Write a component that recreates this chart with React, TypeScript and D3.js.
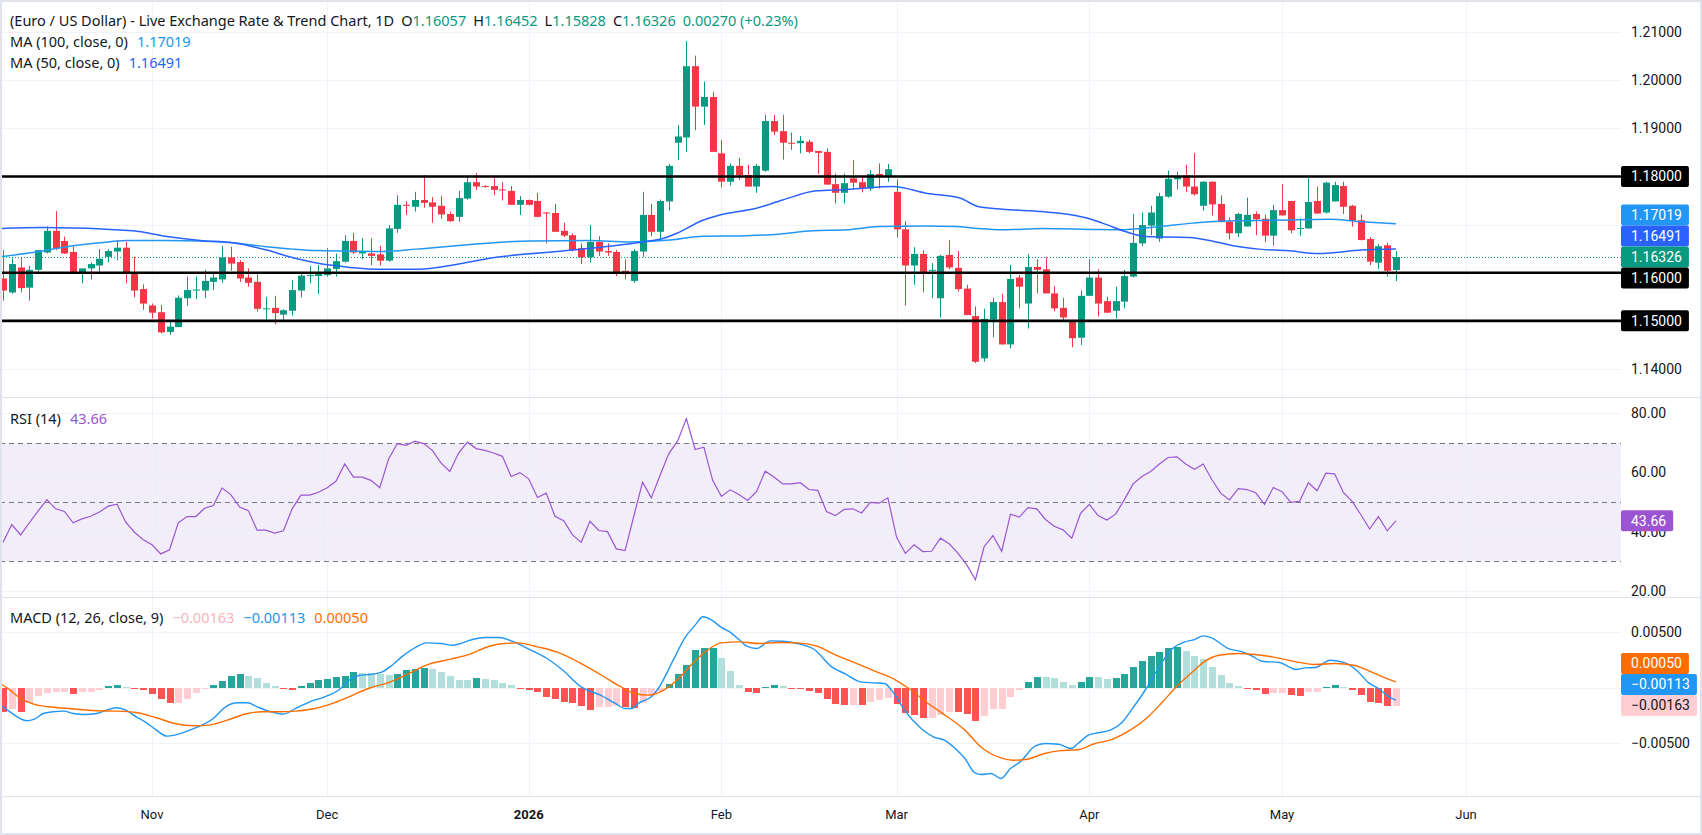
import React, { useEffect, useRef } from 'react';
import * as d3 from 'd3';

// EUR/USD daily chart with MA(100), MA(50), RSI(14) and MACD(12, 26, 9)

const WIDTH = 1702;
const HEIGHT = 835;
const PLOT_RIGHT = 1621;
const FONT = "Roboto, 'Liberation Sans', Arial, sans-serif";
const LEGEND_FONT = "'Noto Sans', 'Open Sans', Roboto, sans-serif";

const UP = '#089981';
const DOWN = '#F23645';
const MA100_COLOR = '#2196F3';
const MA50_COLOR = '#2962FF';
const RSI_COLOR = '#9C55D2';
const MACD_COLOR = '#2196F3';
const SIGNAL_COLOR = '#FF6D00';
const TEXT = '#131722';
const GRID = '#F0F3FA';
const BORDER = '#E0E3EB';

// bar 0 = first trading day of November 2025, first visible bar is -17
const FIRST_BAR = -17;

const monthLabels = ['Nov', 'Dec', '2026', 'Feb', 'Mar', 'Apr', 'May', 'Jun'];
const monthBars = [0, 20, 43, 65, 85, 107, 129, 150];

const priceTicks = [1.21, 1.2, 1.19, 1.18, 1.17, 1.16, 1.15, 1.14];
const levelLines = [1.18, 1.16, 1.15];
const rsiTicks = [80, 60, 40, 20];
const rsiBands = [70, 50, 30];
const macdTicks = [5, -5]; // x 0.001

const opens = [
  1.1588, 1.1559, 1.1611, 1.1569, 1.1606, 1.1642, 1.1687, 1.1666, 1.1643, 1.1599,
  1.1609, 1.1615, 1.1633, 1.1644, 1.1652, 1.1601, 1.1566, 1.1532, 1.1518, 1.1477,
  1.1487, 1.1547, 1.1564, 1.1563, 1.1581, 1.1586, 1.1632, 1.1622, 1.1590, 1.1581,
  1.1525, 1.1527, 1.1513, 1.1521, 1.1563, 1.1594, 1.1593, 1.1595, 1.1608, 1.1623,
  1.1666, 1.1640, 1.1640, 1.1638, 1.1625, 1.1691, 1.1741, 1.1737, 1.1751, 1.1746,
  1.1739, 1.1722, 1.1716, 1.1754, 1.1788, 1.1780, 1.1780, 1.1773, 1.1770, 1.1741,
  1.1751, 1.1749, 1.1725, 1.1724, 1.1687, 1.1678, 1.1651, 1.1632, 1.1664, 1.1645,
  1.1643, 1.1604, 1.1583, 1.1644, 1.1720, 1.1685, 1.1748, 1.1870, 1.1881, 1.2029,
  1.1945, 1.1965, 1.1848, 1.1789, 1.1822, 1.1803, 1.1779, 1.1812, 1.1915, 1.1894,
  1.1870, 1.1869, 1.1872, 1.1853, 1.1851, 1.1784, 1.1766, 1.1796, 1.1788, 1.1775,
  1.1805, 1.1800, 1.1768, 1.1690, 1.1615, 1.1639, 1.1605, 1.1547, 1.1637, 1.1610,
  1.1567, 1.1510, 1.1422, 1.1503, 1.1539, 1.1451, 1.1590, 1.1536, 1.1612, 1.1607,
  1.1557, 1.1527, 1.1502, 1.1465, 1.1552, 1.1590, 1.1541, 1.1521, 1.1540, 1.1592,
  1.1661, 1.1698, 1.1671, 1.1758, 1.1794, 1.1802, 1.1779, 1.1739, 1.1789, 1.1743,
  1.1706, 1.1682, 1.1696, 1.1722, 1.1712, 1.1677, 1.1730, 1.1749, 1.1692, 1.1692,
  1.1749, 1.1725, 1.1748, 1.1780, 1.1739, 1.1709, 1.1670, 1.1621, 1.1657, 1.16057,
];

const highs = [
  1.1647, 1.1630, 1.1632, 1.1614, 1.1647, 1.1696, 1.1728, 1.1675, 1.1654, 1.1609,
  1.1621, 1.1649, 1.1649, 1.1668, 1.1664, 1.1633, 1.1576, 1.1536, 1.1533, 1.1498,
  1.1553, 1.1592, 1.1592, 1.1606, 1.1599, 1.1656, 1.1654, 1.1626, 1.1609, 1.1597,
  1.1550, 1.1552, 1.1524, 1.1585, 1.1601, 1.1614, 1.1616, 1.1651, 1.1640, 1.1678,
  1.1683, 1.1672, 1.1672, 1.1656, 1.1699, 1.1761, 1.1748, 1.1768, 1.1803, 1.1757,
  1.1760, 1.1727, 1.1770, 1.1800, 1.1807, 1.1782, 1.1796, 1.1788, 1.1780, 1.1759,
  1.1752, 1.1766, 1.1726, 1.1743, 1.1704, 1.1682, 1.1661, 1.1699, 1.1676, 1.1661,
  1.1647, 1.1628, 1.1649, 1.1768, 1.1743, 1.1752, 1.1826, 1.1907, 1.2081, 1.2051,
  1.1997, 1.1976, 1.1876, 1.1827, 1.1839, 1.1824, 1.1826, 1.1928, 1.1928, 1.1928,
  1.1891, 1.1884, 1.1876, 1.1853, 1.1858, 1.1806, 1.1806, 1.1834, 1.1800, 1.1813,
  1.1827, 1.1826, 1.1794, 1.1707, 1.1653, 1.1647, 1.1620, 1.1637, 1.1668, 1.1645,
  1.1575, 1.1530, 1.1525, 1.1548, 1.1556, 1.1616, 1.1595, 1.1639, 1.1628, 1.1632,
  1.1572, 1.1548, 1.1502, 1.1563, 1.1628, 1.1607, 1.1550, 1.1571, 1.1606, 1.1722,
  1.1725, 1.1739, 1.1766, 1.1812, 1.1810, 1.1824, 1.1849, 1.1790, 1.1790, 1.1761,
  1.1715, 1.1725, 1.1756, 1.1727, 1.1721, 1.1741, 1.1784, 1.1749, 1.1713, 1.1796,
  1.1779, 1.1789, 1.1789, 1.1789, 1.1741, 1.1721, 1.1674, 1.1660, 1.1662, 1.16452,
];

const lows = [
  1.1542, 1.1556, 1.1559, 1.1542, 1.1602, 1.1640, 1.1647, 1.1639, 1.1599, 1.1578,
  1.1586, 1.1600, 1.1621, 1.1626, 1.1578, 1.1549, 1.1523, 1.1505, 1.1474, 1.1471,
  1.1487, 1.1531, 1.1545, 1.1547, 1.1564, 1.1579, 1.1604, 1.1581, 1.1571, 1.1519,
  1.1502, 1.1493, 1.1502, 1.1511, 1.1549, 1.1578, 1.1556, 1.1592, 1.1592, 1.1621,
  1.1639, 1.1628, 1.1616, 1.1615, 1.1623, 1.1683, 1.1720, 1.1727, 1.1735, 1.1704,
  1.1712, 1.1705, 1.1706, 1.1752, 1.1772, 1.1777, 1.1761, 1.1750, 1.1741, 1.1720,
  1.1740, 1.1715, 1.1661, 1.1685, 1.1674, 1.1644, 1.1618, 1.1621, 1.1635, 1.1635,
  1.1593, 1.1586, 1.1579, 1.1633, 1.1676, 1.1670, 1.1729, 1.1834, 1.1851, 1.1896,
  1.1907, 1.1851, 1.1777, 1.1781, 1.1793, 1.1779, 1.1766, 1.1810, 1.1886, 1.1835,
  1.1855, 1.1848, 1.1848, 1.1805, 1.1783, 1.1744, 1.1744, 1.1775, 1.1767, 1.1770,
  1.1775, 1.1789, 1.1673, 1.1532, 1.1575, 1.1559, 1.1547, 1.1507, 1.1607, 1.1561,
  1.1512, 1.1412, 1.1415, 1.1466, 1.1451, 1.1443, 1.1526, 1.1484, 1.1557, 1.1557,
  1.1520, 1.1502, 1.1445, 1.1450, 1.1552, 1.1509, 1.1516, 1.1505, 1.1526, 1.1590,
  1.1655, 1.1678, 1.1664, 1.1756, 1.1773, 1.1768, 1.1760, 1.1729, 1.1719, 1.1705,
  1.1669, 1.1674, 1.1696, 1.1678, 1.1663, 1.1656, 1.1719, 1.1682, 1.1677, 1.1692,
  1.1722, 1.1723, 1.1748, 1.1722, 1.1696, 1.1667, 1.1616, 1.1608, 1.1592, 1.15828,
];

const closes = [
  1.1563, 1.1618, 1.1568, 1.1606, 1.1647, 1.1687, 1.1651, 1.1640, 1.1599, 1.1609,
  1.1618, 1.1629, 1.1645, 1.1652, 1.1599, 1.1563, 1.1536, 1.1517, 1.1476, 1.1488,
  1.1548, 1.1564, 1.1565, 1.1583, 1.1590, 1.1632, 1.1619, 1.1588, 1.1579, 1.1525,
  1.1526, 1.1516, 1.1522, 1.1564, 1.1594, 1.1595, 1.1600, 1.1609, 1.1624, 1.1666,
  1.1642, 1.1644, 1.1635, 1.1625, 1.1692, 1.1741, 1.1740, 1.1751, 1.1745, 1.1737,
  1.1721, 1.1707, 1.1755, 1.1788, 1.1779, 1.1779, 1.1772, 1.1772, 1.1741, 1.1751,
  1.1741, 1.1716, 1.1724, 1.1685, 1.1677, 1.1647, 1.1632, 1.1664, 1.1644, 1.1642,
  1.1599, 1.1597, 1.1645, 1.1720, 1.1685, 1.1749, 1.1822, 1.1883, 1.2029, 1.1945,
  1.1965, 1.1851, 1.1789, 1.1822, 1.1803, 1.1779, 1.1822, 1.1915, 1.1893, 1.1870,
  1.1869, 1.1874, 1.1851, 1.1849, 1.1783, 1.1766, 1.1786, 1.1787, 1.1775, 1.1805,
  1.1800, 1.1815, 1.1690, 1.1615, 1.1639, 1.1602, 1.1606, 1.1635, 1.1611, 1.1566,
  1.1512, 1.1415, 1.1504, 1.1539, 1.1451, 1.1587, 1.1571, 1.1612, 1.1606, 1.1557,
  1.1526, 1.1507, 1.1464, 1.1552, 1.1590, 1.1536, 1.1517, 1.1541, 1.1593, 1.1662,
  1.1699, 1.1725, 1.1759, 1.1795, 1.1800, 1.1779, 1.1763, 1.1789, 1.1742, 1.1705,
  1.1682, 1.1722, 1.1720, 1.1711, 1.1677, 1.1730, 1.1719, 1.1688, 1.1693, 1.1747,
  1.1723, 1.1787, 1.1782, 1.1737, 1.1708, 1.1668, 1.1623, 1.1655, 1.1604, 1.16326,
];

// moving averages: [bar, value]
const ma100Pts = [
  [-17.3, 1.1633], [-13.6, 1.1642], [-9.7, 1.1654], [-5.9, 1.1662], [-2.9, 1.1667], [1.7, 1.1667],
  [5.5, 1.1666], [9.2, 1.1662], [13.1, 1.1654], [16.1, 1.1649], [18.8, 1.1646], [22.6, 1.1645],
  [26.4, 1.1644], [30.2, 1.1649], [37.4, 1.166], [43.1, 1.1666], [50, 1.1667], [54.5, 1.1664],
  [59.1, 1.1668], [62.9, 1.1676], [67.9, 1.1677], [71.6, 1.168], [75.4, 1.1687], [79.3, 1.1689],
  [83, 1.1696], [88.4, 1.1697], [91.8, 1.1696], [94.1, 1.1692], [97.1, 1.1689], [101.6, 1.1692],
  [107.4, 1.169], [110.4, 1.1689], [115, 1.1696], [118.8, 1.1703], [121.8, 1.1707], [124.5, 1.1708],
  [128.3, 1.1709], [134.4, 1.1711], [138.1, 1.1706], [142, 1.17019],
];

const ma50Pts = [
  [-17.3, 1.1692], [-12.4, 1.1694], [-2.2, 1.1687], [1.7, 1.1675], [5.5, 1.1667], [9.2, 1.1662],
  [13.1, 1.1647], [15.7, 1.1633], [18.8, 1.162], [22.6, 1.1611], [26.4, 1.1607], [30.2, 1.1607],
  [33, 1.1612], [39.3, 1.1632], [48, 1.1647], [56, 1.1664], [58.3, 1.1671], [59.9, 1.1682],
  [62.9, 1.1709], [64.8, 1.172], [69, 1.1734], [72, 1.1751], [75.8, 1.177], [79.3, 1.1773],
  [80.8, 1.1775], [84.6, 1.1779], [88.4, 1.1765], [92.2, 1.1755], [94.4, 1.1737], [97.1, 1.1732],
  [101.6, 1.1727], [103.9, 1.1723], [106.6, 1.1714], [108.5, 1.1703], [111.2, 1.1685], [113.5, 1.1675],
  [118.4, 1.1673], [121.5, 1.1664], [123.8, 1.1655], [126.4, 1.1649], [129.5, 1.1646], [133.2, 1.164],
  [138.1, 1.1647], [142, 1.16491],
];

// RSI(14), one value per bar
const rsi = [
  36.4, 42.4, 38.9, 43.0, 47.0, 50.8, 47.7, 46.8, 43.0, 44.3, 45.2, 46.6, 48.6, 49.3, 43.2, 39.8, 37.3,
  35.6, 32.5, 33.9, 43.0, 45.1, 45.1, 47.9, 48.8, 54.7, 52.5,
  48.3, 47.1, 40.5, 40.5, 39.5, 40.3, 47.7, 52.3, 52.3, 53.3,
  54.8, 57.0, 62.8, 58.4, 58.4, 57.3, 54.8, 64.4, 69.7, 69.1,
  70.5, 69.7, 67.4, 63.1, 60.3, 66.5, 70.2, 68.0, 67.4, 66.5,
  65.4, 58.6, 59.9, 57.8, 51.5, 53.0, 45.2, 43.7, 38.9, 36.4,
  43.5, 40.4, 40.0, 34.2, 33.6, 45.2, 56.7, 51.4, 59.0, 66.3,
  70.5, 78.1, 67.7, 68.5, 57.3, 51.9, 54.1, 52.5, 50.5, 53.5,
  60.4, 58.4, 56.1, 56.1, 56.5, 54.2, 53.9, 46.8, 45.4, 47.5,
  47.7, 46.3, 49.9, 49.6, 51.4, 38.1, 32.7, 35.6, 33.3, 33.4,
  37.8, 35.9, 32.8, 28.9, 23.8, 35.0, 38.7, 33.4, 45.9, 44.9,
  48.1, 47.7, 44.1, 41.8, 40.6, 37.8, 46.2, 49.2, 45.4, 43.9,
  45.9, 50.8, 56.1, 58.6, 60.3, 62.8, 65.0, 65.2, 62.8, 61.0,
  62.8, 57.5, 53.0, 50.7, 54.5, 54.2, 53.1, 49.2, 54.9, 53.5,
  49.9, 50.2, 56.5, 53.8, 59.7, 59.5, 53.2, 50.2, 45.7, 40.9,
  45.1, 40.3, 43.66,
];

// MACD histogram, x 0.001, one value per bar
const HIST_BEFORE = -1.9;
const hist = [
  -2.2, -1.9, -2.2, -1.38, -0.8, -0.54, -0.45, -0.4, -0.57, -0.45, -0.4, -0.24, 0.12, 0.24, 0.09, -0.1, -0.24,
  -0.6, -1.0, -1.4, -1.38, -1.0, -0.54, -0.18, 0.24, 0.57, 1.05,
  1.2, 1.0, 0.87, 0.42, 0.15, -0.12, -0.24, 0.12, 0.42, 0.7,
  0.8, 0.96, 1.05, 1.4, 1.35, 1.3, 1.2, 1.14, 1.2, 1.56,
  1.7, 1.8, 1.68, 1.38, 1.08, 0.72, 0.7, 0.87, 0.78, 0.66,
  0.45, 0.27, -0.09, -0.24, -0.4, -0.84, -1.0, -1.3, -1.44, -1.65,
  -2.0, -1.8, -1.74, -1.68, -1.77, -1.83, -1.44, -0.8, -0.3, 0.3,
  1.2, 2.0, 3.36, 3.57, 3.58, 2.67, 1.5, 0.24, -0.39, -0.48,
  0.09, 0.27, 0.18, -0.03, -0.15, -0.36, -0.51, -1.05, -1.5, -1.59,
  -1.56, -1.6, -1.35, -1.14, -0.96, -1.5, -2.31, -2.49, -2.76, -2.73,
  -2.46, -2.22, -2.25, -2.4, -3.06, -2.58, -1.95, -1.92, -0.9, -0.24,
  0.54, 0.99, 0.97, 0.84, 0.54, 0.21, 0.54, 0.99, 0.97, 0.81,
  0.9, 1.26, 1.89, 2.43, 2.88, 3.24, 3.54, 3.63, 3.33, 2.88,
  2.55, 1.89, 1.17, 0.45, 0.18, -0.09, -0.27, -0.63, -0.54, -0.52,
  -0.72, -0.81, -0.45, -0.44, 0.09, 0.27, 0.09, -0.27, -0.72, -1.35,
  -1.41, -1.71, -1.63,
];

// MACD and signal lines, x 0.001: [bar, value]
const macdPts = [
  [-17.3, -1.59], [-16.2, -2.19], [-15.1, -2.79], [-14.3, -3.0], [-13.5, -2.88], [-12.4, -2.34],
  [-11.3, -2.19], [-10.1, -2.13], [-9, -2.34], [-7.7, -2.43], [-6.3, -2.34], [-5.2, -2.04],
  [-4.1, -1.83], [-3, -2.04], [-1.8, -2.64], [-0.8, -3.09], [0.4, -3.78], [1.7, -4.38],
  [2.6, -4.29], [4.8, -3.69], [7, -2.79], [8.4, -1.74], [9.8, -1.38], [10.9, -1.38],
  [12, -1.74], [13.6, -2.19], [15, -2.4], [16.4, -1.89], [18, -1.29], [19.7, -0.84],
  [21.4, -0.18], [22.5, 0.66], [23.6, 1.08], [25.2, 1.2], [26.3, 1.41], [27.4, 2.01],
  [28.5, 2.76], [30.2, 3.66], [31.3, 4.02], [33, 3.96], [34.3, 3.81], [35.2, 3.96],
  [36.3, 4.26], [38, 4.5], [39.6, 4.5], [41.3, 4.11], [42.9, 3.51], [45.1, 2.61],
  [46.8, 1.62], [49, 0.06], [51.2, -0.69], [52.9, -1.44], [54, -1.89], [54.8, -1.89],
  [55.6, -1.38], [57, -0.84], [57.8, -0.09], [59.5, 2.46], [60.9, 4.56], [62, 5.62],
  [62.9, 6.37], [63.9, 6.07], [65, 5.41], [66.1, 4.92], [67.1, 4.26], [67.9, 3.72],
  [69, 3.51], [70.6, 4.2], [72, 4.17], [73.7, 3.96], [75.6, 3.42], [77.6, 1.86],
  [79.2, 1.2], [80.9, 0.51], [82.3, 0.42], [83.6, 0.36], [84.7, -0.54], [85.9, -2.04],
  [87.8, -3.69], [89.2, -4.44], [90.6, -4.8], [91.7, -5.5], [92.8, -6.4], [93.9, -7.66],
  [94.7, -7.84], [95.8, -7.75], [96.9, -8.2], [98, -7.3], [99.1, -6.7], [100.8, -5.29],
  [101.9, -5.05], [103.5, -5.11], [104.9, -5.5], [105.7, -5.05], [106.9, -4.29], [108, -4.08],
  [109.4, -3.84], [110.7, -3.18], [111.8, -2.04], [113.5, -0.09], [115.2, 2.16], [116.5, 3.51],
  [117.9, 4.11], [119, 4.32], [120, 4.65], [120.9, 4.5], [122.9, 3.51], [124.5, 3.21],
  [125.6, 2.82], [126.7, 2.37], [128.7, 2.25], [130.6, 1.62], [131.7, 1.77], [132.8, 1.8],
  [134.5, 2.46], [136.2, 2.22], [137.5, 1.56], [138.9, 0.42], [140, -0.09], [141.2, -0.84],
  [142, -1.13],
];

const signalPts = [
  [-17.3, 0.36], [-16.2, -0.24], [-15.1, -0.93], [-13.5, -1.5], [-11.8, -1.74], [-9.6, -1.89],
  [-6.3, -2.1], [-4.1, -2.13], [-1.8, -2.25], [0.4, -2.7], [2.6, -3.24], [4.8, -3.45],
  [6.4, -3.39], [8.6, -2.94], [10.9, -2.34], [12.5, -2.19], [14.7, -2.19], [16.4, -2.13],
  [18.6, -1.89], [20.8, -1.38], [22.5, -0.84], [24.7, -0.09], [26.9, 0.42], [29.7, 1.41],
  [31.3, 2.01], [34.1, 2.55], [36.3, 3.0], [38.5, 3.72], [40.2, 3.96], [41.8, 4.02],
  [44, 3.66], [46.2, 3.21], [49, 2.16], [51.2, 1.17], [53.4, 0.12], [55.1, -0.54],
  [56.7, -0.69], [58.4, -0.24], [60, 0.72], [61.7, 2.16], [63.4, 3.36], [65, 4.02],
  [67.1, 4.11], [69.3, 3.96], [71.5, 4.05], [73.7, 4.02], [75.9, 3.72], [78.1, 2.91],
  [80.9, 2.01], [82.5, 1.47], [84.2, 0.96], [86.4, -0.09], [88.6, -1.44], [90.8, -2.64],
  [92.8, -3.84], [94.7, -5.41], [96.9, -6.34], [98.3, -6.55], [99.7, -6.49], [101.9, -5.95],
  [103.5, -5.71], [105.8, -5.59], [107.4, -5.11], [109.6, -4.68], [111.8, -3.78], [113.5, -2.79],
  [115.2, -1.44], [117.1, 0.21], [118.8, 1.41], [120.1, 2.31], [121.8, 2.91], [124, 3.06],
  [125.6, 3.0], [127.9, 2.76], [130.6, 2.31], [132.8, 2.07], [135, 2.16], [137.2, 2.01],
  [138.9, 1.5], [140.5, 0.96], [142, 0.5],
];

const TITLE = '(Euro / US Dollar) - Live Exchange Rate & Trend Chart, 1D';
const CHANGE_TEXT = '0.00270 (+0.23%)';

const fmt5 = d3.format('.5f');
const fmt2 = d3.format('.2f');

// stack price labels so they do not overlap, keeping one of them fixed
const stackLabels = (labels, fixedIdx, h) => {
  const out = labels.map((l) => ({ ...l, cy: l.y }));
  for (let k = fixedIdx - 1; k >= 0; k--) out[k].cy = Math.min(out[k].y, out[k + 1].cy - h);
  for (let k = fixedIdx + 1; k < out.length; k++) out[k].cy = Math.max(out[k].y, out[k - 1].cy + h);
  return out;
};

const App = () => {
  const svgRef = useRef(null);

  useEffect(() => {
    if (!svgRef.current) return;
    const svg = d3.select(svgRef.current);
    svg.selectAll('*').remove();

    // Scales
    const x = d3.scaleLinear().domain([monthBars[0], monthBars[monthBars.length - 1]]).range([152, 1466]);
    const yPrice = d3.scaleLinear().domain([1.14, 1.21]).range([369, 32]);
    const yRsi = d3.scaleLinear().domain([20, 80]).range([591, 413]);
    const yMacd = d3.scaleLinear().domain([-5, 5]).range([743, 632]);

    const panes = { main: [0, 397], rsi: [397, 597], macd: [597, 796] };

    svg.append('rect').attr('width', WIDTH).attr('height', HEIGHT).attr('fill', '#fff');

    const defs = svg.append('defs');
    Object.entries(panes).forEach(([name, [y0, y1]]) => {
      defs.append('clipPath').attr('id', `clip-${name}`)
        .append('rect').attr('x', 0).attr('y', y0 + 1).attr('width', PLOT_RIGHT).attr('height', y1 - y0 - 1);
    });

    // RSI background band
    svg.append('rect')
      .attr('x', 0).attr('y', yRsi(70)).attr('width', PLOT_RIGHT).attr('height', yRsi(30) - yRsi(70))
      .attr('fill', 'rgba(126, 87, 194, 0.1)');

    // Grid
    const grid = svg.append('g').attr('stroke', GRID).attr('stroke-width', 1).attr('shape-rendering', 'crispEdges');
    monthBars.forEach((b) => {
      grid.append('line').attr('x1', Math.round(x(b)) + 0.5).attr('x2', Math.round(x(b)) + 0.5)
        .attr('y1', 0).attr('y2', panes.macd[1]);
    });
    priceTicks.forEach((v) => {
      grid.append('line').attr('x1', 0).attr('x2', PLOT_RIGHT).attr('y1', Math.round(yPrice(v)) + 0.5).attr('y2', Math.round(yPrice(v)) + 0.5);
    });
    rsiTicks.forEach((v) => {
      grid.append('line').attr('x1', 0).attr('x2', PLOT_RIGHT).attr('y1', Math.round(yRsi(v)) + 0.5).attr('y2', Math.round(yRsi(v)) + 0.5);
    });
    [...macdTicks, 0].forEach((v) => {
      grid.append('line').attr('x1', 0).attr('x2', PLOT_RIGHT).attr('y1', Math.round(yMacd(v)) + 0.5).attr('y2', Math.round(yMacd(v)) + 0.5);
    });

    // ---------- main pane ----------
    const main = svg.append('g').attr('clip-path', 'url(#clip-main)');
    const bars = d3.range(opens.length).map((k) => ({
      i: k + FIRST_BAR, o: opens[k], h: highs[k], l: lows[k], c: closes[k],
    }));
    const lastBar = bars[bars.length - 1];

    // last close dotted line
    main.append('line')
      .attr('x1', 0).attr('x2', PLOT_RIGHT)
      .attr('y1', Math.round(yPrice(lastBar.c)) + 0.5).attr('y2', Math.round(yPrice(lastBar.c)) + 0.5)
      .attr('stroke', UP).attr('stroke-width', 1).attr('stroke-dasharray', '1,2');

    const candle = main.append('g').selectAll('g').data(bars).join('g');
    candle.append('rect')
      .attr('x', (d) => Math.round(x(d.i)))
      .attr('y', (d) => yPrice(d.h))
      .attr('width', 1)
      .attr('height', (d) => yPrice(d.l) - yPrice(d.h))
      .attr('fill', (d) => (d.c >= d.o ? UP : DOWN));
    candle.append('rect')
      .attr('x', (d) => Math.round(x(d.i)) - 3)
      .attr('y', (d) => yPrice(Math.max(d.o, d.c)))
      .attr('width', 7)
      .attr('height', (d) => Math.max(1, Math.abs(yPrice(d.o) - yPrice(d.c))))
      .attr('fill', (d) => (d.c >= d.o ? UP : DOWN));

    const maLine = d3.line().x((d) => x(d[0])).y((d) => yPrice(d[1])).curve(d3.curveMonotoneX);
    main.append('path').attr('d', maLine(ma100Pts)).attr('fill', 'none').attr('stroke', MA100_COLOR).attr('stroke-width', 1.5);
    main.append('path').attr('d', maLine(ma50Pts)).attr('fill', 'none').attr('stroke', MA50_COLOR).attr('stroke-width', 1.5);

    // horizontal levels
    levelLines.forEach((v) => {
      main.append('line').attr('x1', 0).attr('x2', PLOT_RIGHT)
        .attr('y1', yPrice(v)).attr('y2', yPrice(v))
        .attr('stroke', '#000').attr('stroke-width', 2.6);
    });

    // ---------- RSI pane ----------
    const rsiG = svg.append('g').attr('clip-path', 'url(#clip-rsi)');
    rsiBands.forEach((v) => {
      rsiG.append('line').attr('x1', 0).attr('x2', PLOT_RIGHT)
        .attr('y1', Math.round(yRsi(v)) + 0.5).attr('y2', Math.round(yRsi(v)) + 0.5)
        .attr('stroke', '#787B86').attr('stroke-width', 1).attr('stroke-dasharray', '5,4');
    });
    const rsiLine = d3.line().x((d, k) => x(k + FIRST_BAR)).y((d) => yRsi(d));
    rsiG.append('path').attr('d', rsiLine(rsi)).attr('fill', 'none').attr('stroke', RSI_COLOR).attr('stroke-width', 1.2);

    // ---------- MACD pane ----------
    const macdG = svg.append('g').attr('clip-path', 'url(#clip-macd)');
    const histColor = (k) => {
      const v = hist[k];
      const p = k > 0 ? hist[k - 1] : HIST_BEFORE;
      if (v >= 0) return v >= p ? '#26A69A' : '#B2DFDB';
      return v < p ? '#FF5252' : '#FFCDD2';
    };
    macdG.append('g').selectAll('rect').data(hist).join('rect')
      .attr('x', (d, k) => Math.round(x(k + FIRST_BAR)) - 3)
      .attr('y', (d) => Math.min(yMacd(d), yMacd(0)))
      .attr('width', 7)
      .attr('height', (d) => Math.max(1, Math.abs(yMacd(d) - yMacd(0))))
      .attr('fill', (d, k) => histColor(k))
      .attr('shape-rendering', 'crispEdges');
    const macdLineGen = d3.line().x((d) => x(d[0])).y((d) => yMacd(d[1])).curve(d3.curveMonotoneX);
    macdG.append('path').attr('d', macdLineGen(macdPts)).attr('fill', 'none').attr('stroke', MACD_COLOR).attr('stroke-width', 1.4);
    macdG.append('path').attr('d', macdLineGen(signalPts)).attr('fill', 'none').attr('stroke', SIGNAL_COLOR).attr('stroke-width', 1.4);

    // ---------- borders ----------
    const borders = svg.append('g').attr('stroke', BORDER).attr('stroke-width', 1).attr('shape-rendering', 'crispEdges');
    [panes.main[1], panes.rsi[1], panes.macd[1]].forEach((yy) => {
      borders.append('line').attr('x1', 0).attr('x2', WIDTH).attr('y1', yy + 0.5).attr('y2', yy + 0.5);
    });
    svg.append('rect').attr('x', 1).attr('y', 1).attr('width', WIDTH - 2).attr('height', HEIGHT - 2)
      .attr('fill', 'none').attr('stroke', BORDER).attr('stroke-width', 2);

    // ---------- right axis ----------
    const axis = svg.append('g').style('font-family', FONT).style('font-size', '14px');

    const drawBox = (cy, text, bg, fg) => {
      const g = axis.append('g');
      const rect = g.append('rect').attr('x', PLOT_RIGHT).attr('y', cy - 10.5).attr('height', 21).attr('rx', 2).attr('fill', bg);
      const t = g.append('text').attr('x', PLOT_RIGHT + 10).attr('y', cy).attr('dy', '0.35em').attr('fill', fg).text(text);
      const len = t.node().getComputedTextLength();
      rect.attr('width', len + 17);
    };

    const priceLabels = stackLabels([
      { y: yPrice(1.18), text: fmt5(1.18), bg: '#000', fg: '#fff' },
      { y: yPrice(ma100Pts[ma100Pts.length - 1][1]), text: fmt5(ma100Pts[ma100Pts.length - 1][1]), bg: MA100_COLOR, fg: '#fff' },
      { y: yPrice(ma50Pts[ma50Pts.length - 1][1]), text: fmt5(ma50Pts[ma50Pts.length - 1][1]), bg: MA50_COLOR, fg: '#fff' },
      { y: yPrice(lastBar.c), text: fmt5(lastBar.c), bg: UP, fg: '#fff' },
      { y: yPrice(1.16), text: fmt5(1.16), bg: '#000', fg: '#fff' },
      { y: yPrice(1.15), text: fmt5(1.15), bg: '#000', fg: '#fff' },
    ], 3, 21);

    priceTicks.forEach((v) => {
      const yy = yPrice(v);
      if (priceLabels.some((l) => Math.abs(l.cy - yy) < 16)) return;
      axis.append('text').attr('x', PLOT_RIGHT + 10).attr('y', yy).attr('dy', '0.35em').attr('fill', TEXT).text(fmt5(v));
    });
    priceLabels.forEach((l) => drawBox(l.cy, l.text, l.bg, l.fg));

    rsiTicks.forEach((v) => {
      axis.append('text').attr('x', PLOT_RIGHT + 10).attr('y', yRsi(v)).attr('dy', '0.35em').attr('fill', TEXT).text(fmt2(v));
    });
    const lastRsi = rsi[rsi.length - 1];
    drawBox(yRsi(lastRsi), fmt2(lastRsi), RSI_COLOR, '#fff');

    macdTicks.forEach((v) => {
      axis.append('text').attr('x', PLOT_RIGHT + 10).attr('y', yMacd(v)).attr('dy', '0.35em').attr('fill', TEXT).text(fmt5(v / 1000));
    });
    const lastSignal = signalPts[signalPts.length - 1][1];
    const lastMacd = macdPts[macdPts.length - 1][1];
    const lastHist = hist[hist.length - 1];
    const macdLabels = stackLabels([
      { y: yMacd(lastSignal), text: fmt5(lastSignal / 1000), bg: SIGNAL_COLOR, fg: '#fff' },
      { y: yMacd(lastMacd), text: fmt5(lastMacd / 1000), bg: MACD_COLOR, fg: '#fff' },
      { y: yMacd(lastHist), text: fmt5(lastHist / 1000), bg: '#FFCDD2', fg: TEXT },
    ], 2, 21);
    macdLabels.forEach((l) => drawBox(l.cy, l.text, l.bg, l.fg));

    // ---------- time axis ----------
    const timeAxis = svg.append('g').style('font-family', FONT).style('font-size', '13px');
    monthLabels.forEach((label, k) => {
      timeAxis.append('text')
        .attr('x', x(monthBars[k])).attr('y', 814).attr('dy', '0.35em')
        .attr('text-anchor', 'middle').attr('fill', TEXT)
        .style('font-weight', label === '2026' ? 'bold' : 'normal')
        .text(label);
    });

    // ---------- legends ----------
    const legend = svg.append('g').style('font-family', LEGEND_FONT).style('font-size', '14.5px');
    const title = legend.append('text').attr('x', 10).attr('y', 21).attr('dy', '0.35em').attr('fill', TEXT);
    title.append('tspan').text(TITLE);
    [['O', lastBar.o], ['H', lastBar.h], ['L', lastBar.l], ['C', lastBar.c]].forEach(([k, v]) => {
      title.append('tspan').attr('dx', 7).attr('fill', TEXT).text(k);
      title.append('tspan').attr('fill', UP).text(fmt5(v));
    });
    title.append('tspan').attr('dx', 7).attr('fill', UP).text(CHANGE_TEXT);

    const legendRow = (y, label, values) => {
      const t = legend.append('text').attr('x', 10).attr('y', y).attr('dy', '0.35em').attr('fill', TEXT);
      t.append('tspan').text(label);
      values.forEach(([text, color]) => {
        t.append('tspan').attr('dx', 9).attr('fill', color).text(text);
      });
    };
    legendRow(42, 'MA (100, close, 0)', [[fmt5(ma100Pts[ma100Pts.length - 1][1]), MA100_COLOR]]);
    legendRow(63, 'MA (50, close, 0)', [[fmt5(ma50Pts[ma50Pts.length - 1][1]), MA50_COLOR]]);
    legendRow(419, 'RSI (14)', [[fmt2(lastRsi), RSI_COLOR]]);
    legendRow(618, 'MACD (12, 26, close, 9)', [
      [fmt5(lastHist / 1000), '#F8B4BB'],
      [fmt5(lastMacd / 1000), MACD_COLOR],
      [fmt5(lastSignal / 1000), SIGNAL_COLOR],
    ]);
  }, []);

  return (
    <div style={{ position: 'absolute', left: 0, top: 0, width: WIDTH, height: HEIGHT, background: '#fff' }}>
      <svg ref={svgRef} width={WIDTH} height={HEIGHT} style={{ display: 'block' }} />
    </div>
  );
};

export default App;
